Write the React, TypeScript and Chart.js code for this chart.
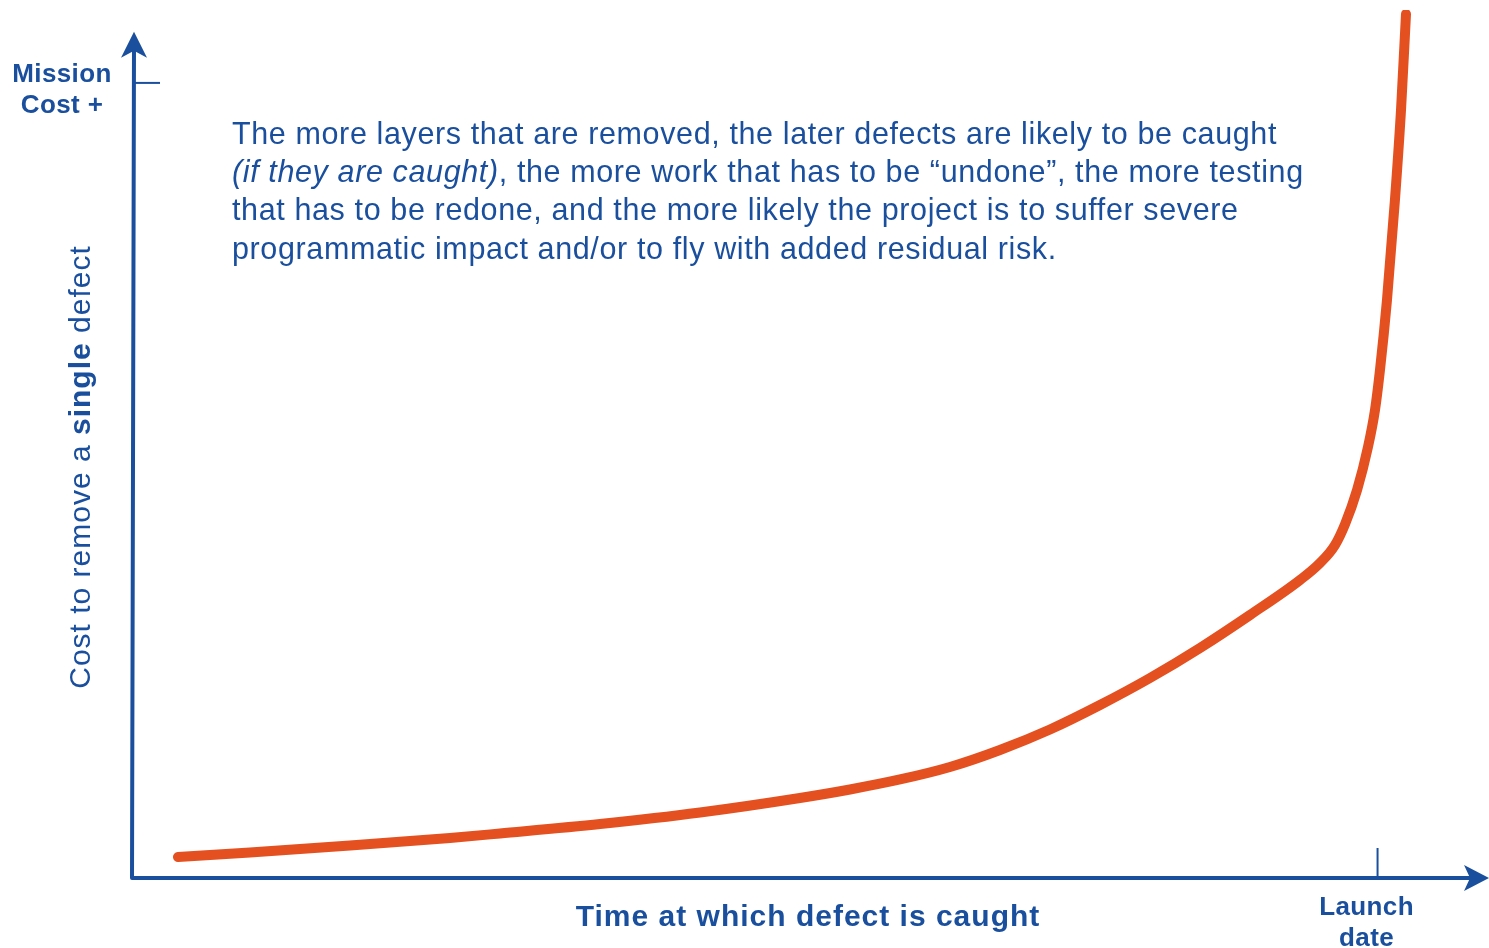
import React, { useEffect, useRef } from "react";
import { Chart, registerables } from "chart.js";

Chart.register(...registerables);

// Time at which a defect is caught (0 = start, 100 = axis end)
const timeValues: number[] = [
  3.41, 8.75, 16.17, 23.59, 27.3, 34.72, 42.14, 49.55, 53.26, 56.97, 60.68,
  64.39, 68.1, 71.81, 75.52, 79.23, 82.94, 86.65, 88.13, 89.24, 89.99, 90.88,
  91.69, 92.21, 92.58, 93.1, 93.69, 94.14, 94.51,
];
// Cost to remove a single defect
const costValues: number[] = [
  2.42, 2.94, 3.74, 4.61, 5.13, 6.22, 7.55, 9.22, 10.2, 11.35, 12.79, 14.75,
  17.11, 19.93, 23.04, 26.5, 30.3, 34.33, 36.29, 38.36, 40.78, 44.7, 49.65,
  53.92, 58.53, 66.59, 78.11, 88.48, 99.54,
];

const launchDate = 92.4; // x-axis marker
const missionCost = 91.6; // y-axis marker
const yAxisTop = 97.5;
const xAxisEnd = 100.67;

const xTitle = "Time at which defect is caught";
const yTitleParts: [string, boolean][] = [
  ["Cost to remove a ", false],
  ["single", true],
  [" defect", false],
];
const missionLabel = ["Mission", "Cost +"];
const launchLabel = ["Launch", "date"];
const noteLines: [string, boolean][][] = [
  [["The more layers that are removed, the later defects are likely to be caught", false]],
  [
    ["(if they are caught)", true],
    [", the more work that has to be \u201cundone\u201d, the more testing", false],
  ],
  [["that has to be redone, and the more likely the project is to suffer severe", false]],
  [["programmatic impact and/or to fly with added residual risk.", false]],
];

const BLUE = "#1a4f9e";
const ORANGE = "#e4501f";
const FONT = "'Liberation Sans', Arial, sans-serif";

const setSpacing = (ctx: any, v: string) => {
  if ("letterSpacing" in ctx) ctx.letterSpacing = v;
};

const decorPlugin = {
  id: "decor",
  beforeDatasetsDraw(chart: any) {
    const ctx = chart.ctx as CanvasRenderingContext2D;
    const xs = chart.scales.x;
    const ys = chart.scales.y;
    const x0 = xs.getPixelForValue(0);
    const y0 = ys.getPixelForValue(0);
    const yTop = ys.getPixelForValue(yAxisTop);
    const xEnd = xs.getPixelForValue(xAxisEnd);
    ctx.save();
    ctx.strokeStyle = BLUE;
    ctx.fillStyle = BLUE;
    ctx.lineWidth = 4;
    ctx.lineJoin = "round";
    ctx.beginPath();
    ctx.moveTo(x0 + 2, yTop + 12);
    ctx.lineTo(x0, y0);
    ctx.lineTo(xEnd - 10, y0);
    ctx.stroke();
    // y arrowhead
    const ax = x0 + 2;
    ctx.beginPath();
    ctx.moveTo(ax, yTop);
    ctx.lineTo(ax + 13, yTop + 26);
    ctx.lineTo(ax, yTop + 19);
    ctx.lineTo(ax - 13, yTop + 26);
    ctx.closePath();
    ctx.fill();
    // x arrowhead
    ctx.beginPath();
    ctx.moveTo(xEnd, y0);
    ctx.lineTo(xEnd - 25, y0 - 13);
    ctx.lineTo(xEnd - 19, y0);
    ctx.lineTo(xEnd - 25, y0 + 13);
    ctx.closePath();
    ctx.fill();
    // markers
    ctx.lineWidth = 2;
    const my = ys.getPixelForValue(missionCost);
    ctx.beginPath();
    ctx.moveTo(x0 + 3, my);
    ctx.lineTo(x0 + 28, my);
    ctx.stroke();
    const lx = xs.getPixelForValue(launchDate);
    ctx.beginPath();
    ctx.moveTo(lx, y0 - 30);
    ctx.lineTo(lx, y0);
    ctx.stroke();
    ctx.restore();
  },
  afterDraw(chart: any) {
    const ctx = chart.ctx as CanvasRenderingContext2D;
    const xs = chart.scales.x;
    const ys = chart.scales.y;
    const y0 = ys.getPixelForValue(0);
    ctx.save();
    ctx.fillStyle = BLUE;
    ctx.textBaseline = "middle";
    // x title
    ctx.font = `bold 30px ${FONT}`;
    setSpacing(ctx, "1px");
    ctx.textAlign = "center";
    ctx.fillText(xTitle, 808, y0 + 40);
    // launch label
    setSpacing(ctx, "0.4px");
    const lx = xs.getPixelForValue(launchDate);
    ctx.font = `bold 26px ${FONT}`;
    ctx.fillText(launchLabel[0], lx - 11, y0 + 30);
    ctx.fillText(launchLabel[1], lx - 11, y0 + 61);
    // mission label
    const my = ys.getPixelForValue(missionCost);
    ctx.fillText(missionLabel[0], 62, my - 8);
    ctx.fillText(missionLabel[1], 62, my + 23);
    // y title, rotated
    setSpacing(ctx, "1px");
    ctx.save();
    ctx.translate(82, 467);
    ctx.rotate(-Math.PI / 2);
    ctx.textAlign = "left";
    let total = 0;
    for (const [t, b] of yTitleParts) {
      ctx.font = `${b ? "bold " : ""}30px ${FONT}`;
      total += ctx.measureText(t).width;
    }
    let cx = -total / 2;
    for (const [t, b] of yTitleParts) {
      ctx.font = `${b ? "bold " : ""}30px ${FONT}`;
      ctx.fillText(t, cx, 0);
      cx += ctx.measureText(t).width;
    }
    ctx.restore();
    // note paragraph
    setSpacing(ctx, "0.62px");
    ctx.textAlign = "left";
    const lineYs = [136, 174, 212, 251];
    noteLines.forEach((parts, i) => {
      let px = 232;
      for (const [t, it] of parts) {
        ctx.font = `${it ? "italic " : ""}30.5px ${FONT}`;
        ctx.fillText(t, px, lineYs[i]);
        px += ctx.measureText(t).width;
      }
    });
    ctx.restore();
  },
};

export default function App() {
  const ref = useRef<HTMLCanvasElement | null>(null);
  useEffect(() => {
    document.body.style.margin = "0";
    const canvas = ref.current;
    if (!canvas) return;
    const chart = new Chart(canvas, {
      type: "line",
      data: {
        datasets: [
          {
            data: timeValues.map((x, i) => ({ x, y: costValues[i] })),
            borderColor: ORANGE,
            borderWidth: 10,
            borderCapStyle: "round",
            borderJoinStyle: "round",
            pointRadius: 0,
            cubicInterpolationMode: "monotone",
            fill: false,
          },
        ],
      },
      options: {
        responsive: false,
        animation: false,
        devicePixelRatio: 1,
        layout: { padding: { left: 132, top: 10, right: 9, bottom: 70 } },
        plugins: {
          legend: { display: false },
          tooltip: { enabled: false },
          title: { display: false },
        },
        scales: {
          x: { type: "linear", min: 0, max: 100, display: false },
          y: { type: "linear", min: 0, max: 100, display: false },
        },
      },
      plugins: [decorPlugin],
    });
    return () => chart.destroy();
  }, []);
  return (
    <div style={{ position: "fixed", left: 0, top: 0, width: 1489, height: 948, background: "#fff" }}>
      <canvas ref={ref} width={1489} height={948} />
    </div>
  );
}
